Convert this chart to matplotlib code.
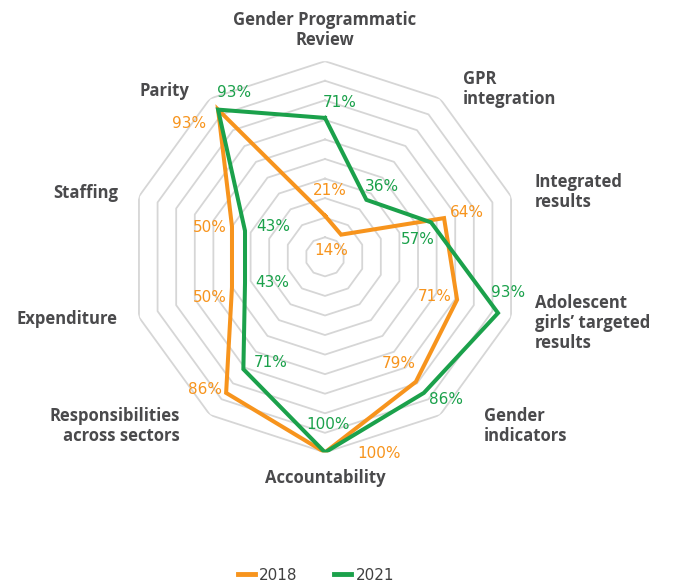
import matplotlib.pyplot as plt
from matplotlib.lines import Line2D
import numpy as np

categories = ["Gender Programmatic\nReview", "GPR\nintegration", "Integrated\nresults",
              "Adolescent\ngirls\u2019 targeted\nresults", "Gender\nindicators", "Accountability",
              "Responsibilities\nacross sectors", "Expenditure", "Staffing", "Parity"]
v2018 = [21, 14, 64, 71, 79, 100, 86, 50, 50, 93]
v2021 = [71, 36, 57, 93, 86, 100, 71, 43, 43, 93]
years = ["2018", "2021"]

ORANGE = "#F7941D"
GREEN = "#1BA14B"
GRID = "#d6d6d6"
DARK = "#4a4a4c"

# label offsets in pixels (dx, dy) relative to each point
off2018 = [(5, 25), (-10, -16), (23, 6), (-22, 3), (-17, 18), (54, -1),
           (-21, 3), (-22, -10), (-22, -1), (-29, -14)]
off2021 = [(15, 15), (15, 13), (-13, -17), (10, 21), (22, -7), (3, 28),
           (27, 7), (27, 0), (28, 4), (16, 17)]

W, H = 673, 587
fig = plt.figure(figsize=(W / 100, H / 100), dpi=100)
cx, cy, R = 325, 256.8, 195.6
ax = fig.add_axes([(cx - R) / W, (H - cy - R) / H, 2 * R / W, 2 * R / H], projection="polar")
ax.set_theta_offset(np.pi / 2)
ax.set_theta_direction(-1)
ax.set_ylim(0, 100)
ax.axis("off")

n = len(categories)
ang = np.linspace(0, 2 * np.pi, n, endpoint=False)
ang_c = np.append(ang, ang[0])

for r in range(10, 101, 10):
    ax.plot(ang_c, [r] * (n + 1), color=GRID, lw=1.3, zorder=1)

for vals, col in [(v2018, ORANGE), (v2021, GREEN)]:
    ax.plot(ang_c, vals + vals[:1], color=col, lw=2.9, solid_joinstyle="miter", zorder=3)

for vals, col, offs in [(v2018, ORANGE, off2018), (v2021, GREEN, off2021)]:
    for a, v, o in zip(ang, vals, offs):
        ax.annotate(f"{v}%", xy=(a, v), xytext=o, textcoords="offset pixels",
                    ha="center", va="center", color=col, fontsize=11,
                    family="DejaVu Sans", zorder=4)

# category label positions (pixel coords, alignment)
cat_pos = [(325, 30, "center"), (463, 89, "left"), (535, 192, "left"), (535, 323, "left"),
           (484, 426, "left"), (325, 478, "center"), (180, 426, "right"), (118, 319, "right"),
           (118, 193, "right"), (189, 91, "right")]
for name, (x, y, ha) in zip(categories, cat_pos):
    fig.text(x / W, 1 - y / H, name, ha=ha, va="center", multialignment=ha,
             fontsize=12, fontweight="bold", family="Open Sans", color=DARK, linespacing=1.15)

handles = [Line2D([], [], color=ORANGE, lw=3.5), Line2D([], [], color=GREEN, lw=3.5)]
leg = fig.legend(handles, years, loc="center", bbox_to_anchor=(316 / W, 1 - 575 / H), ncol=2,
                 frameon=False, handlelength=1.1, handletextpad=0.3, columnspacing=2.4,
                 prop={"family": "DejaVu Sans", "size": 11})
for t in leg.get_texts():
    t.set_color("#404040")

fig.savefig("out.png", dpi=100)
